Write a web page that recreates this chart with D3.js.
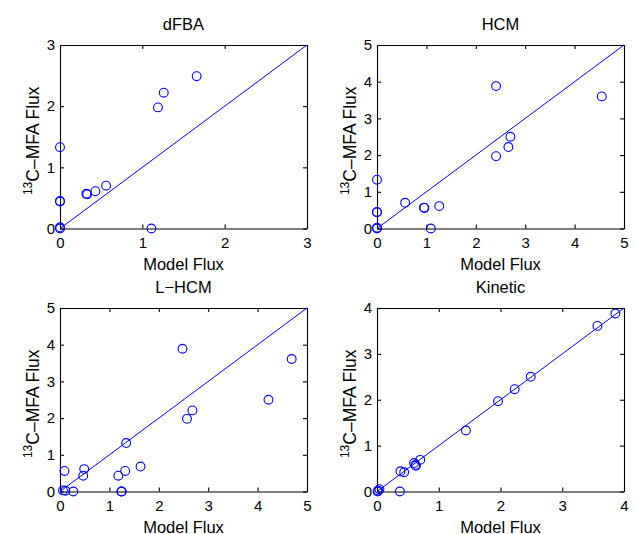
<!DOCTYPE html>
<html>
<head>
<meta charset="utf-8">
<script src="https://d3js.org/d3.v7.min.js"></script>
<style>
    body { margin: 0; background: white; font-family: "Liberation Sans", Arial, Helvetica, sans-serif; }
    svg text { fill: black; }
    .axis path, .axis line { stroke: black; stroke-width: 1.1px; }
    .dot { fill: none; stroke: #0000ff; stroke-width: 1.1px; }
    .diag { stroke: #0000ff; stroke-width: 1px; }
</style>
</head>
<body>
<svg id="chart" width="637" height="534"></svg>
<script>
    // panel titles and axis ranges
    const titles = ["dFBA", "HCM", "L\u2212HCM", "Kinetic"];
    const axisMax = [3, 5, 5, 4];

    // model flux (x) and 13C-MFA flux (y) per panel
    const dfbaX = [0, 0, 0, 0, 0, 0.32, 0.33, 0.43, 0.56, 1.11, 1.19, 1.26, 1.66];
    const dfbaY = [1.33, 0.45, 0.44, 0.02, 0, 0.57, 0.56, 0.61, 0.70, 0, 1.98, 2.22, 2.49];

    const hcmX = [0, 0, 0, 0, 0, 0.57, 0.95, 0.96, 1.26, 1.09, 2.41, 2.41, 2.66, 2.70, 4.55];
    const hcmY = [1.33, 0.45, 0.44, 0.02, 0, 0.70, 0.57, 0.56, 0.61, 0, 3.88, 1.97, 2.22, 2.50, 3.60];

    const lhcmX = [0.09, 0.06, 0.11, 0.27, 0.47, 0.49, 1.18, 1.32, 1.34, 1.24, 1.25, 1.63, 2.48, 2.57, 2.68, 4.22, 4.69];
    const lhcmY = [0.56, 0.03, 0.02, 0, 0.43, 0.61, 0.43, 0.56, 1.32, 0, 0, 0.68, 3.89, 1.98, 2.21, 2.50, 3.61];

    const kinX = [0.01, 0.04, 0.02, 0.37, 0.38, 0.44, 0.60, 0.63, 0.62, 0.70, 1.44, 1.96, 2.23, 2.49, 3.57, 3.86];
    const kinY = [0, 0.05, 0.02, 0, 0.44, 0.42, 0.62, 0.56, 0.58, 0.69, 1.33, 1.97, 2.23, 2.50, 3.61, 3.88];

    const seriesX = [dfbaX, hcmX, lhcmX, kinX];
    const seriesY = [dfbaY, hcmY, lhcmY, kinY];

    const svg = d3.select("#chart");
    const lefts = [60, 377];
    const tops = [45, 308];
    const w = 247, h = 183.5;

    titles.forEach((title, i) => {
        const col = i % 2, row = Math.floor(i / 2);
        const g = svg.append("g")
                     .attr("transform", "translate(" + lefts[col] + "," + tops[row] + ")");
        const max = axisMax[i];
        const x = d3.scaleLinear().domain([0, max]).range([0, w]);
        const y = d3.scaleLinear().domain([0, max]).range([h, 0]);
        const ticks = d3.range(0, max + 1);
        const fmt = d3.format("d");

        // ticks on all four sides, pointing inward
        const bottom = g.append("g").attr("class", "axis")
                        .attr("transform", "translate(0," + h + ")")
                        .call(d3.axisBottom(x).tickValues(ticks).tickFormat(fmt).tickSizeInner(-4).tickSizeOuter(0));
        const left = g.append("g").attr("class", "axis")
                      .call(d3.axisLeft(y).tickValues(ticks).tickFormat(fmt).tickSizeInner(-4).tickSizeOuter(0));
        g.append("g").attr("class", "axis")
         .call(d3.axisTop(x).tickValues(ticks).tickSizeInner(-4).tickSizeOuter(0).tickFormat(""));
        g.append("g").attr("class", "axis")
         .attr("transform", "translate(" + w + ",0)")
         .call(d3.axisRight(y).tickValues(ticks).tickSizeInner(-4).tickSizeOuter(0).tickFormat(""));

        g.selectAll(".axis text")
         .style("font-family", "'Liberation Sans', Arial, sans-serif")
         .style("font-size", "15px");
        bottom.selectAll("text").attr("dy", "0.75em").attr("y", 8);
        left.selectAll("text").attr("x", -5);

        // diagonal y = x
        g.append("line").attr("class", "diag")
         .attr("x1", x(0)).attr("y1", y(0))
         .attr("x2", x(max)).attr("y2", y(max));

        const pts = seriesX[i].map((v, k) => [v, seriesY[i][k]])
                              .filter(d => d[0] <= max && d[1] <= max);
        g.selectAll("circle").data(pts)
         .join("circle")
         .attr("class", "dot")
         .attr("r", 4.4)
         .attr("cx", d => x(d[0]))
         .attr("cy", d => y(d[1]));

        // title
        g.append("text")
         .attr("x", w / 2).attr("y", -15)
         .attr("text-anchor", "middle")
         .style("font-size", "16.5px")
         .text(title);

        // x label
        g.append("text")
         .attr("x", w / 2).attr("y", h + 41)
         .attr("text-anchor", "middle")
         .style("font-size", "16.5px")
         .text("Model Flux");

        // y label with superscript
        const yl = g.append("text")
                    .attr("transform", "translate(-23," + (h / 2 + 4) + ") rotate(-90)")
                    .attr("text-anchor", "middle")
                    .style("font-size", "17.5px");
        yl.append("tspan").attr("dy", "-0.45em").style("font-size", "12px").text("13");
        yl.append("tspan").attr("dy", "0.45em").text("C\u2013MFA Flux");
    });
</script>
</body>
</html>
